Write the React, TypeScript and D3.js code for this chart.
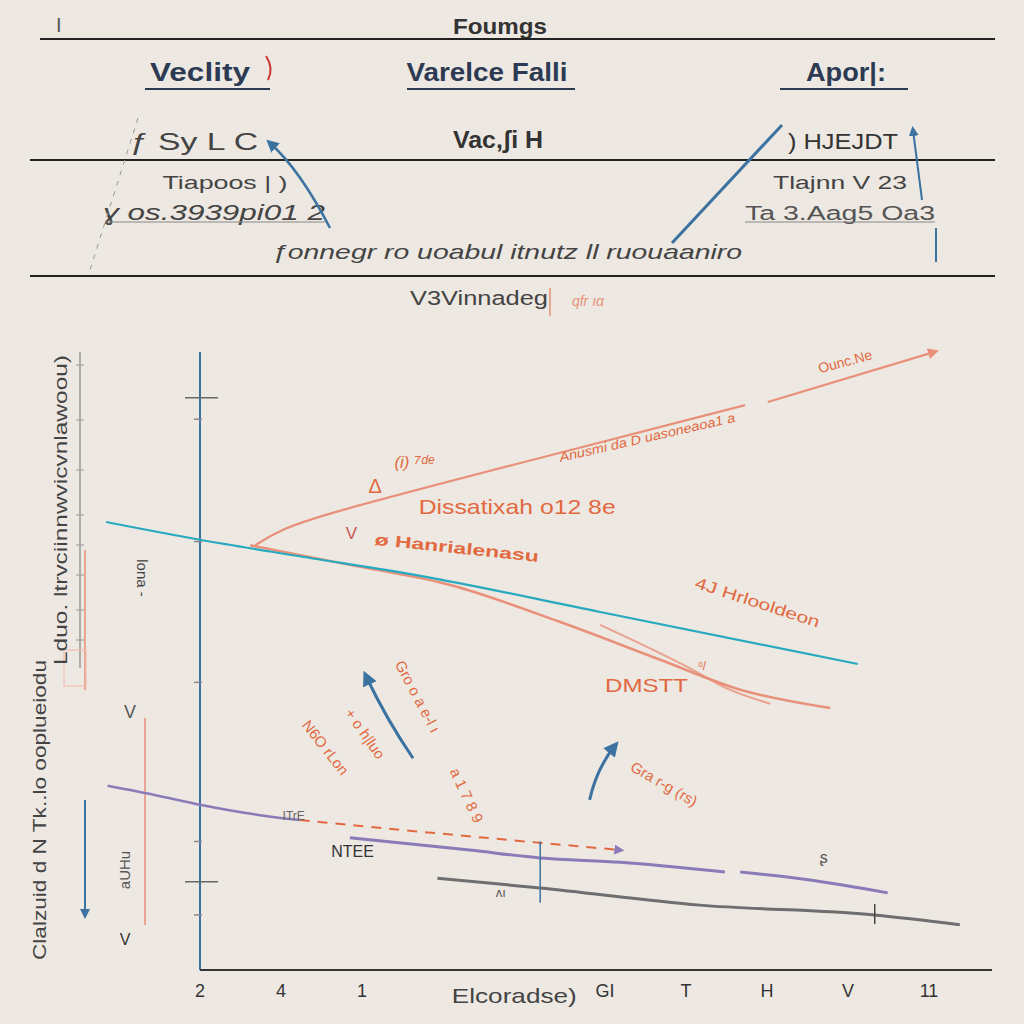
import React from "react";
import * as d3 from "d3";

// tick labels along the bottom axis (index = position on the x scale)
const xTickLabels = ["2", "4", "1", "", "", "GI", "T", "H", "V", "11"];
const yTickMajor = [1.44, 9.35];
const yTickMinor = [9.0, 7.0, 4.7, 2.1, 0.9];

// series, x in tick units, y in value units
const tealX = [-1.16, 0, 1.23, 2.72, 4.94, 8.12];
const tealY = [7.32, 7.03, 6.76, 6.44, 5.85, 5.0];

const salmonAX = [0.62, 1.85, 3.09, 4.44, 5.68, 6.67, 7.78];
const salmonAY = [6.94, 6.62, 6.29, 5.69, 5.07, 4.58, 4.28];
const salmonBX = [4.94, 6.05, 6.54, 7.04];
const salmonBY = [5.64, 4.93, 4.58, 4.35];

const upperAX = [0.68, 0.99, 1.48, 3.7, 6.73];
const upperAY = [6.94, 7.19, 7.43, 8.2, 9.23];
const upperBX = [7.01, 9.07];
const upperBY = [9.28, 10.1];

const purpleAX = [-1.14, -0.49, 0, 0.74, 1.23];
const purpleAY = [3.01, 2.84, 2.7, 2.53, 2.45];
const dashedX = [1.23, 3.2, 5.19];
const dashedY = [2.45, 2.2, 1.96];
const purpleBX = [1.85, 3.33, 4.2, 5.19, 6.48];
const purpleBY = [2.16, 1.96, 1.83, 1.76, 1.6];
const purpleCX = [6.67, 7.53, 8.49];
const purpleCY = [1.6, 1.47, 1.26];

const grayX = [2.93, 4.2, 6.17, 8.33, 9.38];
const grayY = [1.5, 1.34, 1.06, 0.9, 0.74];

// blue arrows inside the plot: [x0, y0, xMid, yMid, x1, y1]
const plotArrows = [
  [2.63, 3.46, 2.3, 4.1, 2.05, 4.8],
  [4.81, 2.78, 4.9, 3.3, 5.12, 3.66],
];

const W = 1024;
const H = 1024;
const bg = "#ede8e2";
const navy = "#2c3a52";
const orange = "#e2693f";
const salmon = "#e8907a";
const teal = "#27a9bf";
const purple = "#8a7ab8";
const blue = "#3b72a0";

const x = d3.scaleLinear().domain([0, 9]).range([200, 929]);
const y = d3.scaleLinear().domain([0, 10]).range([970, 358]);

const zip = (xs: number[], ys: number[]) => xs.map((v, i) => [v, ys[i]] as [number, number]);
const curve = d3
  .line<[number, number]>()
  .x((d) => x(d[0]))
  .y((d) => y(d[1]))
  .curve(d3.curveMonotoneX);
const straight = d3
  .line<[number, number]>()
  .x((d) => x(d[0]))
  .y((d) => y(d[1]))
  .curve(d3.curveBasis);

const Arrow = ({ id, color }: { id: string; color: string }) => (
  <marker id={id} viewBox="0 0 10 10" refX="6" refY="5" markerWidth="5" markerHeight="5" orient="auto">
    <path d="M0,0 L10,5 L0,10 z" fill={color} />
  </marker>
);

// text squeezed to the width it has in the picture
const T = (p: any) => <text lengthAdjust="spacingAndGlyphs" {...p} />;

const App = () => {
  const font = "'Liberation Sans', Arial, sans-serif";
  return (
    <div style={{ position: "absolute", left: 0, top: 0 }}>
      <svg width={W} height={H} style={{ display: "block", background: bg }} fontFamily={font}>
        <defs>
          <Arrow id="ab" color={blue} />
          <Arrow id="ao" color={salmon} />
          <Arrow id="ap" color={purple} />
        </defs>

        {/* header block */}
        <T x={500} y={34} textAnchor="middle" fontSize={22} fontWeight="bold" fill="#333" textLength={94}>
          Foumgs
        </T>
        <text x={56} y={32} fontSize={20} fill="#555">I</text>
        <line x1={40} x2={995} y1={39} y2={39} stroke="#222" strokeWidth={2} />

        <T x={200} y={81} textAnchor="middle" fontSize={25} fontWeight="bold" fill={navy} textLength={100}>Veclity</T>
        <path d="M266,56 Q274,68 268,80" stroke="#c33" strokeWidth={2} fill="none" />
        <line x1={145} x2={270} y1={89} y2={89} stroke={navy} strokeWidth={2} />
        <T x={487} y={81} textAnchor="middle" fontSize={25} fontWeight="bold" fill={navy} textLength={161}>Varelce Falli</T>
        <line x1={407} x2={575} y1={89} y2={89} stroke={navy} strokeWidth={2} />
        <T x={846} y={81} textAnchor="middle" fontSize={25} fontWeight="bold" fill={navy} textLength={80}>Apor|:</T>
        <line x1={780} x2={908} y1={89} y2={89} stroke={navy} strokeWidth={2} />

        <T x={194} y={150} textAnchor="middle" fontSize={24} fill="#444" textLength={128}>ƒ Sy L C</T>
        <T x={498} y={148} textAnchor="middle" fontSize={24} fontWeight="bold" fill="#333" textLength={90}>Vac,ʃi H</T>
        <T x={843} y={149} textAnchor="middle" fontSize={22} fill="#333" textLength={110}>) HJEJDT</T>
        <line x1={30} x2={995} y1={160} y2={160} stroke="#222" strokeWidth={2} />

        <T x={225} y={189} textAnchor="middle" fontSize={19} fill="#444" textLength={125}>Tiapoos | )</T>
        <T x={214} y={220} textAnchor="middle" fontSize={22} fontStyle="italic" fill="#444" textLength={222}>ɣ os.3939pi01 2</T>
        <line x1={105} x2={325} y1={222} y2={222} stroke="#888" strokeWidth={1} />
        <T x={840} y={189} textAnchor="middle" fontSize={19} fill="#444" textLength={134}>Tlajnn V 23</T>
        <T x={840} y={220} textAnchor="middle" fontSize={20} fill="#555" textLength={190}>Ta 3.Aag5 Oa3</T>
        <line x1={745} x2={935} y1={222} y2={222} stroke="#888" strokeWidth={1} />
        <T x={507} y={259} textAnchor="middle" fontSize={21} fontStyle="italic" fill="#444" textLength={470}>
          ƒonnegr ro uoabul  itnutz  ll ruouaaniro
        </T>
        <line x1={30} x2={995} y1={276} y2={276} stroke="#222" strokeWidth={2} />
        <T x={479} y={305} textAnchor="middle" fontSize={20} fill="#444" textLength={138}>V3Vinnadeg</T>
        <line x1={550} x2={550} y1={288} y2={316} stroke={orange} strokeWidth={1} />
        <text x={588} y={306} textAnchor="middle" fontSize={14} fontStyle="italic" fill={salmon}>qfr ıα</text>
        <path d="M138,118 L90,270" stroke="#999" strokeWidth={1} strokeDasharray="5 6" />
        <line x1={936} x2={936} y1={228} y2={262} stroke={blue} strokeWidth={2} />

        {/* header arrows */}
        <path d="M330,228 Q300,170 270,143" stroke={blue} strokeWidth={2.5} fill="none" markerEnd="url(#ab)" />
        <path d="M672,243 L782,125" stroke={blue} strokeWidth={3} fill="none" />
        <path d="M922,200 L913,130" stroke={blue} strokeWidth={2} fill="none" markerEnd="url(#ab)" />

        {/* left side labels and guides */}
        <line x1={80} x2={80} y1={352} y2={668} stroke="#999" strokeWidth={1.5} />
        {[365, 420, 470, 515, 545, 575, 610, 640].map((v) => (
          <line key={v} x1={76} x2={84} y1={v} y2={v} stroke="#999" />
        ))}
        <line x1={85} x2={85} y1={550} y2={690} stroke={salmon} strokeWidth={1.5} />
        <rect x={64} y={650} width={22} height={36} fill="none" stroke="#f0b8a8" />
        <line x1={85} x2={85} y1={800} y2={915} stroke={blue} strokeWidth={2} markerEnd="url(#ab)" />
        <line x1={145} x2={145} y1={718} y2={925} stroke={salmon} strokeWidth={1.5} />
        <T transform="translate(67,510) rotate(-90)" textAnchor="middle" fontSize={19} fill="#444" textLength={310}>
          Lduo. ltrvciinnwvicvnlawoou)
        </T>
        <text transform="translate(137,578) rotate(90)" textAnchor="middle" fontSize={15} fill="#444">
          lona -
        </text>
        <T transform="translate(46,810) rotate(-90)" textAnchor="middle" fontSize={19} fill="#444" textLength={300}>
          Clalzuid d N Tk..lo ooplueiodu
        </T>
        <text x={130} y={718} textAnchor="middle" fontSize={18} fill="#555">V</text>
        <text transform="translate(130,870) rotate(-90)" textAnchor="middle" fontSize={15} fill="#555">aUHu</text>
        <text x={125} y={945} textAnchor="middle" fontSize={16} fill="#333">V</text>

        {/* axes */}
        <line x1={x(0)} x2={x(0)} y1={y(10.1)} y2={y(0)} stroke={blue} strokeWidth={2} />
        <line x1={x(0)} x2={992} y1={y(0)} y2={y(0)} stroke="#333" strokeWidth={2} />
        {yTickMajor.map((v) => (
          <line key={v} x1={x(0) - 15} x2={x(0) + 18} y1={y(v)} y2={y(v)} stroke="#666" strokeWidth={1.5} />
        ))}
        {yTickMinor.map((v) => (
          <line key={v} x1={x(0) - 6} x2={x(0) + 2} y1={y(v)} y2={y(v)} stroke="#888" strokeWidth={1.5} />
        ))}
        {xTickLabels.map((t, i) => (
          <text key={i} x={x(i)} y={y(0) + 27} textAnchor="middle" fontSize={18} fill="#333">
            {t}
          </text>
        ))}
        <T x={x(3.88)} y={y(0) + 33} textAnchor="middle" fontSize={21} fill="#444" textLength={125}>
          Elcoradse)
        </T>

        {/* series */}
        <path d={curve(zip(salmonAX, salmonAY)) || ""} stroke={salmon} strokeWidth={2.5} fill="none" />
        <path d={curve(zip(salmonBX, salmonBY)) || ""} stroke={salmon} strokeWidth={2} fill="none" opacity={0.8} />
        <path d={curve(zip(tealX, tealY)) || ""} stroke={teal} strokeWidth={2.2} fill="none" />
        <path d={straight(zip(upperAX, upperAY)) || ""} stroke={salmon} strokeWidth={2.2} fill="none" />
        <path d={straight(zip(upperBX, upperBY)) || ""} stroke={salmon} strokeWidth={2.2} fill="none" markerEnd="url(#ao)" />
        <path d={curve(zip(purpleAX, purpleAY)) || ""} stroke={purple} strokeWidth={2.5} fill="none" />
        <path d={curve(zip(dashedX, dashedY)) || ""} stroke={orange} strokeWidth={2} strokeDasharray="10 8" fill="none" markerEnd="url(#ap)" />
        <path d={curve(zip(purpleBX, purpleBY)) || ""} stroke={purple} strokeWidth={3} fill="none" />
        <path d={curve(zip(purpleCX, purpleCY)) || ""} stroke={purple} strokeWidth={3} fill="none" />
        <path d={curve(zip(grayX, grayY)) || ""} stroke="#6e6e6e" strokeWidth={3} fill="none" />
        <line x1={x(4.2)} x2={x(4.2)} y1={y(2.1)} y2={y(1.1)} stroke={blue} strokeWidth={1.5} />
        <line x1={x(8.33)} x2={x(8.33)} y1={y(1.08)} y2={y(0.75)} stroke="#444" strokeWidth={1.5} />

        {plotArrows.map((a, i) => (
          <path
            key={i}
            d={`M${x(a[0])},${y(a[1])} Q${x(a[2])},${y(a[3])} ${x(a[4])},${y(a[5])}`}
            stroke={blue}
            strokeWidth={3}
            fill="none"
            markerEnd="url(#ab)"
          />
        ))}

        {/* annotations */}
        <g fill={orange}>
          <T x={x(2.7)} y={y(7.45)} fontSize={21} textLength={197}>Dissatixah  o12 8e</T>
          <text x={x(2.08)} y={y(7.8)} fontSize={20}>Δ</text>
          <text x={x(2.4)} y={y(8.2)} fontSize={17} fontStyle="italic">(i) ⁷ᵈᵉ</text>
          <text x={x(1.8)} y={y(7.05)} fontSize={17} fill="#c55">V</text>
          <T transform={`translate(${x(2.15)},${y(6.95)}) rotate(6)`} fontSize={16} fontWeight="bold" textLength={165}>
            ø  Hanrialenasu
          </T>
          <T transform={`translate(${x(4.45)},${y(8.3)}) rotate(-13)`} fontSize={13} fontStyle="italic" textLength={180}>
            Anusmi da D uasoneaoa1 a
          </T>
          <text transform={`translate(${x(7.65)},${y(9.75)}) rotate(-15)`} fontSize={14}>
            Ounc.Ne
          </text>
          <T transform={`translate(${x(6.1)},${y(6.25)}) rotate(18)`} fontSize={16} textLength={130}>
            4J Hrlooldeon
          </T>
          <T x={x(5.0)} y={y(4.55)} fontSize={19} textLength={83}>DMSTT</T>
          <text x={x(6.15)} y={y(4.9)} fontSize={12}>ᵒ/</text>
          <text transform={`translate(${x(2.4)},${y(5.0)}) rotate(62)`} fontSize={15}>
            Gro o a e-l   ı
          </text>
          <text transform={`translate(${x(1.78)},${y(4.2)}) rotate(55)`} fontSize={15}>
            + o h|luo
          </text>
          <text transform={`translate(${x(1.25)},${y(4.0)}) rotate(52)`} fontSize={15}>
            N6O  rLon
          </text>
          <text transform={`translate(${x(3.08)},${y(3.25)}) rotate(65)`} fontSize={15}>
            a 1 7 8 9
          </text>
          <text transform={`translate(${x(5.3)},${y(3.27)}) rotate(30)`} fontSize={15}>
            Gra r-g (rs)
          </text>
        </g>
        <text x={x(1.62)} y={y(1.85)} fontSize={16} fill="#333">NTEE</text>
        <text x={x(1.02)} y={y(2.45)} fontSize={12} fill="#666">ITrE</text>
        <text x={x(3.65)} y={y(1.2)} fontSize={13} fill="#555">ʌı</text>
        <text x={x(7.65)} y={y(1.75)} fontSize={16} fill="#555">ʂ</text>
      </svg>
    </div>
  );
};

export default App;
